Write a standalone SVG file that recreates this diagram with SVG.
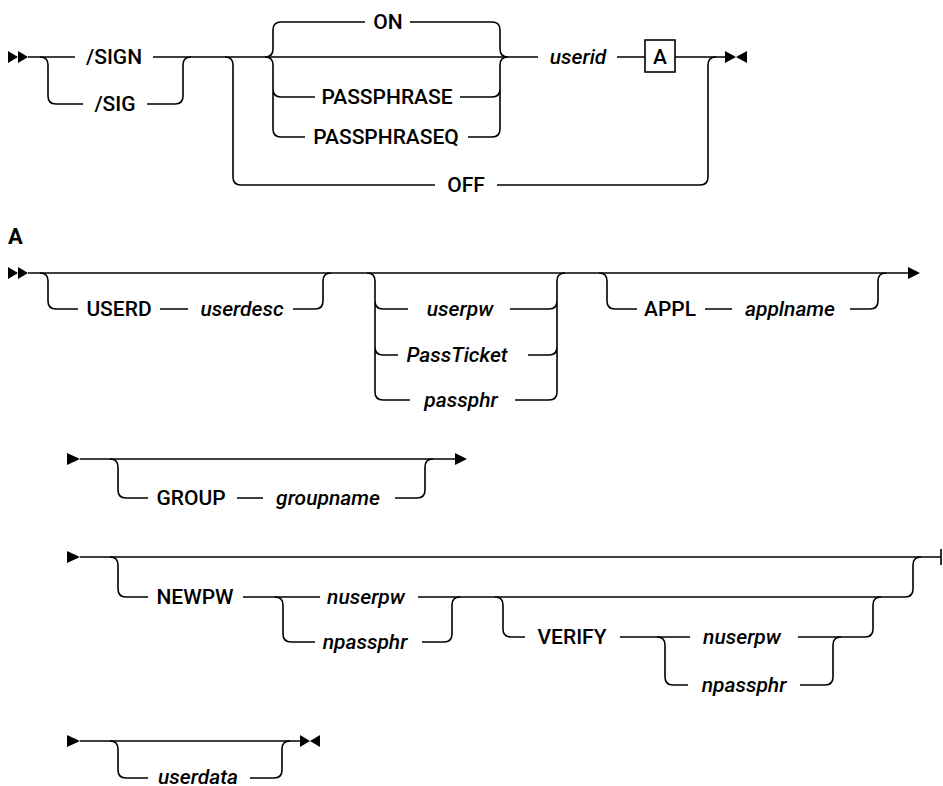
<svg xmlns="http://www.w3.org/2000/svg" width="943" height="786" viewBox="0 0 943 786">
<style>
.ln{fill:none;stroke:#000;stroke-width:1.6}
.mk{fill:#000;stroke:none}
.t{font-family:Roboto,"Liberation Sans",sans-serif;font-size:21px;font-weight:500;fill:#000;text-anchor:middle}
.v{font-style:italic}
.lbl{font-family:Roboto,"Liberation Sans",sans-serif;font-size:22px;font-weight:bold;fill:#000}
</style>
<rect width="943" height="786" fill="#fff"/>
<g id="connectors">
<path class="ln" d="M28 57H75M153 57H538M617 57H645M675 57H725"/>
<path class="ln" d="M40 57Q48 57 48 65V96Q48 104 56 104H83M147 104H175Q183 104 183 96V65Q183 57 191 57"/>
<path class="ln" d="M265 57Q273 57 273 49V30Q273 22 281 22H365M265 57Q273 57 273 65V129Q273 137 281 137H305M273 89Q273 97 281 97H315"/>
<path class="ln" d="M410 22H492Q500 22 500 30V49Q500 57 508 57M468 137H492Q500 137 500 129V65Q500 57 508 57M460 97H492Q500 97 500 89"/>
<path class="ln" d="M225 57Q233 57 233 65V177Q233 185 241 185H435M497 185H700Q708 185 708 177V65Q708 57 716 57"/>
<path class="ln" d="M28 273H908"/>
<path class="ln" d="M40 273Q48 273 48 281V301Q48 309 56 309H78M160 309H188M293 309H315Q323 309 323 301V281Q323 273 331 273"/>
<path class="ln" d="M367 273Q375 273 375 281V392Q375 400 383 400H410M375 301Q375 309 383 309H408M375 347Q375 355 383 355H398"/>
<path class="ln" d="M515 400H549Q557 400 557 392V281Q557 273 565 273M510 309H549Q557 309 557 301M528 355H549Q557 355 557 347"/>
<path class="ln" d="M599 273Q607 273 607 281V301Q607 309 615 309H637M705 309H732M850 309H870Q878 309 878 301V281Q878 273 886 273"/>
<path class="ln" d="M80 459H455"/>
<path class="ln" d="M110 459Q118 459 118 467V490Q118 498 126 498H148M237 498H263M395 498H417Q425 498 425 490V467Q425 459 433 459"/>
<path class="ln" d="M80 557H941M941 549V565"/>
<path class="ln" d="M110 557Q118 557 118 565V589Q118 597 126 597H148M243 597H320M418 597H905Q913 597 913 589V565Q913 557 921 557"/>
<path class="ln" d="M275 597Q283 597 283 605V634Q283 642 291 642H315M422 642H444Q452 642 452 634V605Q452 597 460 597"/>
<path class="ln" d="M495 597Q503 597 503 605V629Q503 637 511 637H525M620 637H690M798 637H865Q873 637 873 629V605Q873 597 881 597"/>
<path class="ln" d="M657 637Q665 637 665 645V677Q665 685 673 685H688M800 685H825Q833 685 833 677V645Q833 637 841 637"/>
<path class="ln" d="M80 741H300"/>
<path class="ln" d="M110 741Q118 741 118 749V770Q118 778 126 778H148M250 778H274Q282 778 282 770V749Q282 741 290 741"/>
<path class="mk" d="M8 51L18 57L8 63ZM18 51L28 57L18 63Z"/>
<path class="mk" d="M725 51L736 57L725 63ZM747 51L736 57L747 63Z"/>
<path class="mk" d="M8 267L18 273L8 279ZM18 267L28 273L18 279Z"/>
<path class="mk" d="M908 267L920 273L908 279Z"/>
<path class="mk" d="M67 453L80 459L67 465ZM455 453L467 459L455 465Z"/>
<path class="mk" d="M67 551L80 557L67 563Z"/>
<path class="mk" d="M67 735L80 741L67 747ZM300 735L310 741L300 747ZM320 735L310 741L320 747Z"/>
</g>
<g id="n-sign"><text class="t" x="114" y="64">/SIGN</text></g>
<g id="n-sig"><text class="t" x="115" y="111">/SIG</text></g>
<g id="n-on"><text class="t" x="388" y="29">ON</text></g>
<g id="n-passphrase"><text class="t" x="387" y="104">PASSPHRASE</text></g>
<g id="n-passphraseq"><text class="t" x="386" y="144">PASSPHRASEQ</text></g>
<g id="n-off"><text class="t" x="466" y="192">OFF</text></g>
<g id="n-userid"><text class="t v" x="578" y="64">userid</text></g>
<g id="n-refA"><rect x="645" y="40" width="30" height="32" fill="#fff" stroke="#000" stroke-width="1.6"/><text class="t" x="660" y="64">A</text></g>
<g id="label-A"><text class="lbl" x="8" y="244">A</text></g>
<g id="n-userd"><text class="t" x="119" y="316">USERD</text></g>
<g id="n-userdesc"><text class="t v" x="242" y="316">userdesc</text></g>
<g id="n-userpw"><text class="t v" x="460" y="316">userpw</text></g>
<g id="n-passticket"><text class="t v" x="457" y="362">PassTicket</text></g>
<g id="n-passphr"><text class="t v" x="461" y="407">passphr</text></g>
<g id="n-appl"><text class="t" x="670" y="316">APPL</text></g>
<g id="n-applname"><text class="t v" x="790" y="316">applname</text></g>
<g id="n-group"><text class="t" x="191" y="505">GROUP</text></g>
<g id="n-groupname"><text class="t v" x="328" y="505">groupname</text></g>
<g id="n-newpw"><text class="t" x="195" y="604">NEWPW</text></g>
<g id="n-nuserpw1"><text class="t v" x="366" y="604">nuserpw</text></g>
<g id="n-npassphr1"><text class="t v" x="365" y="649">npassphr</text></g>
<g id="n-verify"><text class="t" x="572" y="644">VERIFY</text></g>
<g id="n-nuserpw2"><text class="t v" x="742" y="644">nuserpw</text></g>
<g id="n-npassphr2"><text class="t v" x="744" y="692">npassphr</text></g>
<g id="n-userdata"><text class="t v" x="198" y="784">userdata</text></g>
</svg>
